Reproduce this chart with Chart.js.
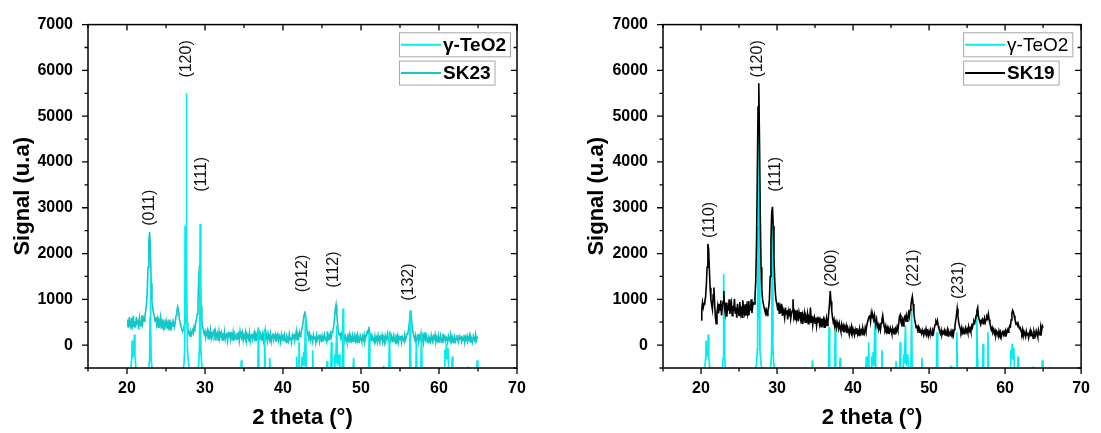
<!DOCTYPE html>
<html><head><meta charset="utf-8">
<script src="https://cdn.jsdelivr.net/npm/chart.js@4.4.1/dist/chart.umd.min.js"></script>
<style>
html,body{margin:0;padding:0;background:#fff;}
#wrap{position:relative;width:1101px;height:433px;overflow:hidden;background:#fff;}
canvas{position:absolute;top:0;}
</style></head><body>
<div id="wrap">
<canvas id="c1" width="550" height="433" style="left:0px"></canvas>
<canvas id="c2" width="551" height="433" style="left:550px"></canvas>
</div>
<script>
// ---- scan grid (2 theta, degrees) ----
const THETA_START = 20.0;
const THETA_STEP = 0.1;

// ---- SK23 measured pattern, 20.0 .. 65.0 deg ----
const sk23 = [
420,560,380,610,470,350,590,450,640,400,
520,380,620,460,560,340,600,490,420,650,
480,590,520,650,750,900,1200,1700,2300,2470,
2100,1350,950,800,700,640,520,610,450,560,
390,530,470,600,360,500,420,560,330,480,
540,360,470,400,560,320,450,380,500,420,
470,400,530,650,760,840,780,600,480,420,
380,300,330,410,460,560,640,500,330,260,
220,300,180,280,330,260,400,350,480,560,
680,900,1500,1750,1300,850,550,400,320,240,
300,180,250,320,140,260,200,330,150,240,
180,310,330,120,270,190,250,90,290,160,
230,280,110,260,170,300,130,220,270,100,
240,180,290,120,230,160,280,90,250,190,
130,270,170,240,100,300,200,150,260,110,
220,160,280,100,240,180,130,270,90,210,
250,120,200,270,80,230,150,260,110,340,
180,240,110,200,260,100,230,330,150,200,
90,250,170,120,240,80,200,260,110,190,
240,70,180,230,100,210,150,60,230,140,
190,80,220,130,60,200,160,90,240,110,
170,60,210,140,250,90,190,300,120,220,
160,280,190,250,320,420,520,660,740,600,
450,300,220,150,240,100,200,160,70,220,
140,190,60,210,110,170,230,80,180,120,
200,70,160,230,110,180,90,300,140,200,
110,250,180,290,320,420,560,780,880,660,
460,310,220,270,160,240,130,250,180,90,
200,140,60,190,120,220,70,170,110,210,
80,160,230,100,180,60,200,130,90,210,
140,70,190,120,220,80,160,240,300,250,
400,280,150,210,80,180,130,60,200,110,
170,70,210,120,50,180,140,220,90,160,
60,200,110,170,250,90,140,300,120,190,
80,160,220,100,60,190,130,210,70,170,
120,200,60,180,140,90,220,110,170,240,
260,340,500,700,760,520,340,250,180,120,
210,90,160,240,70,190,130,250,100,180,
60,280,140,90,200,120,50,180,150,80,
210,110,60,190,140,230,80,160,100,200,
70,150,220,110,60,250,130,180,90,170,
120,60,200,140,90,230,100,170,60,150,
200,80,140,220,110,60,190,130,210,80,
150,100,220,60,170,120,200,90,140,210,
70,180,120,60,200,140,90,230,110,170,
150
];

// ---- SK19 measured pattern, 20.0 .. 65.0 deg ----
const sk19 = [
550,780,930,820,900,960,1050,1300,1700,2210,
2100,1650,1250,1000,880,780,1100,1260,880,600,
470,720,850,690,900,760,980,650,840,950,
1180,820,700,930,620,880,750,1000,680,830,
920,640,860,740,1010,700,820,600,900,770,
650,940,720,850,610,980,760,690,890,640,
830,710,960,650,880,750,1000,700,860,920,
900,1050,1400,2200,3600,5200,5720,4400,2800,1700,
1200,1000,900,820,750,700,760,650,750,830,
1000,1500,2300,2900,3020,2600,1900,1400,1100,950,
880,760,930,680,820,700,900,640,780,720,
600,820,680,760,560,730,640,800,580,690,
750,1000,620,700,540,760,600,680,520,720,
640,560,720,480,650,590,700,500,620,560,
680,470,600,550,820,500,640,440,580,620,
480,600,420,560,500,620,450,530,400,580,
470,550,390,520,460,580,430,500,700,900,
1180,950,750,600,500,560,420,480,380,500,
430,350,470,380,300,450,360,420,280,400,
340,420,260,380,320,230,360,300,400,250,
350,280,220,330,260,370,240,300,210,340,
270,320,230,360,290,250,380,310,420,500,
560,620,660,520,700,600,640,560,650,500,
480,560,400,450,360,420,330,480,560,650,
520,400,350,420,300,370,260,340,290,380,
320,250,360,280,330,230,350,300,400,330,
450,620,660,500,450,540,420,580,620,560,
650,520,600,700,620,760,850,980,1060,900,
700,560,480,380,430,330,390,280,340,300,
250,330,270,220,310,260,350,240,290,200,
300,240,330,260,210,320,280,380,450,520,
480,540,420,360,300,250,330,230,290,260,
320,220,280,240,330,200,300,260,230,310,
250,300,220,340,420,530,650,800,640,500,
420,360,300,380,280,340,250,320,380,290,
340,270,400,310,360,290,420,380,470,520,
480,560,650,760,820,620,560,500,450,530,
560,470,540,600,500,560,620,580,680,560,
480,400,330,380,290,340,250,310,220,300,
270,200,310,240,290,180,260,320,230,280,
200,300,250,330,280,360,420,400,550,700,
760,720,640,560,500,460,480,400,420,360,
380,310,260,340,200,290,240,180,300,220,
270,160,250,320,190,280,220,150,300,240,
200,310,250,180,330,260,220,380,300,420,
380
];

// ---- gamma-TeO2 reference pattern (2 theta, signal) ----
const refTheta = [
20.0,20.45,20.6,20.65,20.72,20.88,20.95,21.02,21.2,
22.75,22.9,22.96,23.0,23.04,23.1,23.25,
27.1,27.3,27.4,27.45,27.5,27.57,27.62,27.67,27.75,27.9,28.1,
29.05,29.2,29.3,29.38,29.46,29.56,29.75,
34.58,34.66,34.74,
36.77,36.85,36.93,
37.57,37.65,37.73,
38.22,38.3,38.38,
41.67,41.75,41.83,
41.97,42.05,42.13,
42.37,42.45,42.55,42.65,42.75,42.9,42.98,
43.72,43.8,43.88,
45.57,45.65,45.73,
46.12,46.2,46.28,
46.57,46.65,46.75,46.9,46.98,47.2,47.3,
47.62,47.7,47.78,
48.97,49.05,49.13,
50.97,51.05,51.13,
52.84,52.9,52.96,
53.57,53.65,53.73,
56.2,56.25,56.3,56.36,56.42,
57.02,57.1,57.18,
57.67,57.75,57.83,
60.65,60.75,60.85,60.95,61.05,61.15,61.25,
61.62,61.7,61.78,
63.64,63.7,63.76,
64.82,64.9,64.98,
65.0
];
const refSignal = [
-600,-600,-300,100,-250,-200,230,-250,-600,
-600,-300,600,1550,600,-300,-600,
-600,-420,-100,2600,600,1500,5500,1500,-100,-420,-600,
-600,-400,-50,2650,-50,-400,-600,
-600,-330,-600,
-600,390,-600,
-600,335,-600,
-600,-275,-600,
-600,-250,-600,
-600,60,-600,
-600,-250,-450,-150,-450,650,-600,
-600,-115,-600,
-600,-350,-600,
-600,65,-600,
-600,-200,-400,430,-450,-200,-600,
-450,800,-600,
-600,-275,-600,
-600,280,-600,
-600,-450,-600,
-600,280,-600,
-600,-300,750,-300,-600,
-600,30,-600,
-600,283,-600,
-600,-100,-300,30,-300,-60,-600,
-600,-250,-600,
-600,-470,-600,
-600,-330,-600,
-600
];

// ---- axes ----
const xMin = 15, xMax = 70, xMinor = 5;
const xTickValues = [20, 30, 40, 50, 60, 70];
const yMin = -500, yMax = 7000, yMinor = 500;
const yTickValues = [0, 1000, 2000, 3000, 4000, 5000, 6000, 7000];

// ---- peak annotations (hkl, 2 theta, signal at label centre) ----
const leftHkl   = ['(011)','(120)','(111)','(012)','(112)','(132)'];
const leftTheta = [22.9, 27.6, 29.6, 42.55, 46.5, 56.1];
const leftAt    = [3000, 6250, 3730, 1565, 1650, 1375];
const rightHkl   = ['(110)','(120)','(111)','(200)','(221)','(231)'];
const rightTheta = [21.16, 27.5, 29.76, 37.2, 47.9, 53.9];
const rightAt    = [2735, 6250, 3730, 1680, 1680, 1415];

const FONT = '"Liberation Sans", Arial, Helvetica, sans-serif';
Chart.defaults.font.family = FONT;
Chart.defaults.color = '#000';

const framePlugin = {
  id: 'frame',
  afterDatasetsDraw(chart, args, opts) {
    const {ctx, chartArea: a, scales: {x, y}} = chart;
    ctx.save();
    ctx.strokeStyle = '#000';
    ctx.lineWidth = 1.3;
    ctx.beginPath();
    for (let v = xMin; v <= xMax + 1e-9; v += xMinor) {
      const px = x.getPixelForValue(v);
      const L = xTickValues.includes(v) ? 6 : 3.5;
      ctx.moveTo(px, a.bottom); ctx.lineTo(px, a.bottom + L);
      ctx.moveTo(px, a.top); ctx.lineTo(px, a.top + L);
    }
    for (let v = yMin; v <= yMax + 1e-9; v += yMinor) {
      const py = y.getPixelForValue(v);
      const L = yTickValues.includes(v) ? 6 : 3.5;
      ctx.moveTo(a.left, py); ctx.lineTo(a.left - L, py);
      ctx.moveTo(a.right, py); ctx.lineTo(a.right - L, py);
    }
    ctx.stroke();
    ctx.lineWidth = 1.5;
    ctx.strokeRect(a.left, a.top, a.right - a.left, a.bottom - a.top);

    // peak labels
    ctx.fillStyle = '#111';
    ctx.font = '16px ' + FONT;
    ctx.textAlign = 'center';
    ctx.textBaseline = 'middle';
    opts.hkl.forEach((t, i) => {
      ctx.save();
      ctx.translate(x.getPixelForValue(opts.theta[i]), y.getPixelForValue(opts.at[i]));
      ctx.rotate(-Math.PI / 2);
      ctx.fillText(t, 0, 0);
      ctx.restore();
    });

    // legend: one framed box per series
    const left = a.right - 118;
    let top = a.top + 7.7;
    chart.data.datasets.forEach((ds) => {
      ctx.font = (ds.legendBold ? 'bold ' : '') + '19px ' + FONT;
      const tw = ctx.measureText(ds.label).width;
      const w = 44 + tw + 4;
      const h = 24;
      ctx.fillStyle = '#fff';
      ctx.fillRect(left, top, w, h);
      ctx.strokeStyle = '#a8a8a8';
      ctx.lineWidth = 1;
      ctx.strokeRect(left + 0.5, top + 0.5, w, h);
      const cy = top + h / 2 + 0.5;
      ctx.strokeStyle = ds.borderColor;
      ctx.lineWidth = 2;
      ctx.beginPath(); ctx.moveTo(left + 2, cy); ctx.lineTo(left + 42, cy); ctx.stroke();
      ctx.fillStyle = '#000';
      ctx.textAlign = 'left';
      ctx.textBaseline = 'middle';
      ctx.fillText(ds.label, left + 44, cy + 1);
      top += 28.3;
    });
    ctx.restore();
  }
};

function makeChart(id, series, name, color, width, sampleOnTop, refBold, yWidth, padRight, yTitlePad, hkl, theta, at) {
  const refData = refTheta.map((t, i) => ({x: t, y: refSignal[i]}));
  const sampleData = series.map((v, i) => ({x: Math.round((THETA_START + i * THETA_STEP) * 10) / 10, y: v}));
  return new Chart(document.getElementById(id), {
    type: 'line',
    data: {
      datasets: [
        {label: 'γ-TeO2', data: refData, borderColor: '#00EEEE', borderWidth: 1.7,
         pointRadius: 0, tension: 0, order: sampleOnTop ? 1 : 0, legendBold: refBold},
        {label: name, data: sampleData, borderColor: color, borderWidth: width,
         pointRadius: 0, tension: 0, order: sampleOnTop ? 0 : 1, legendBold: true}
      ]
    },
    options: {
      responsive: false,
      animation: false,
      devicePixelRatio: 1,
      layout: {padding: {left: 0, right: padRight, top: 24, bottom: 0}},
      plugins: {
        legend: {display: false},
        tooltip: {enabled: false},
        frame: {hkl: hkl, theta: theta, at: at}
      },
      scales: {
        x: {
          type: 'linear', min: xMin, max: xMax,
          afterBuildTicks(s) { s.ticks = xTickValues.map((v) => ({value: v})); },
          afterFit(s) { s.height = 65; },
          grid: {display: false, drawTicks: false},
          border: {display: false},
          ticks: {padding: 11, autoSkip: false, maxRotation: 0,
                  font: {size: 16, weight: 'bold'}, color: '#000',
                  callback: (v) => String(v)},
          title: {display: true, text: '2 theta (°)', color: '#000',
                  font: {size: 22, weight: 'bold'}, padding: {top: 0, bottom: 2}}
        },
        y: {
          type: 'linear', min: yMin, max: yMax,
          afterBuildTicks(s) { s.ticks = yTickValues.map((v) => ({value: v})); },
          afterFit(s) { s.width = yWidth; },
          grid: {display: false, drawTicks: false},
          border: {display: false},
          ticks: {padding: 15, autoSkip: false,
                  font: {size: 16, weight: 'bold'}, color: '#000',
                  callback: (v) => String(v)},
          title: {display: true, text: 'Signal (u.a)', color: '#000',
                  font: {size: 22, weight: 'bold'}, padding: {top: yTitlePad, bottom: 0}}
        }
      }
    },
    plugins: [framePlugin]
  });
}

makeChart('c1', sk23, 'SK23', '#14C6C6', 1.6, false, true, 88, 33, 10, leftHkl, leftTheta, leftAt);
makeChart('c2', sk19, 'SK19', '#000000', 1.6, true, false, 113, 11, 34, rightHkl, rightTheta, rightAt);
</script>
</body></html>
